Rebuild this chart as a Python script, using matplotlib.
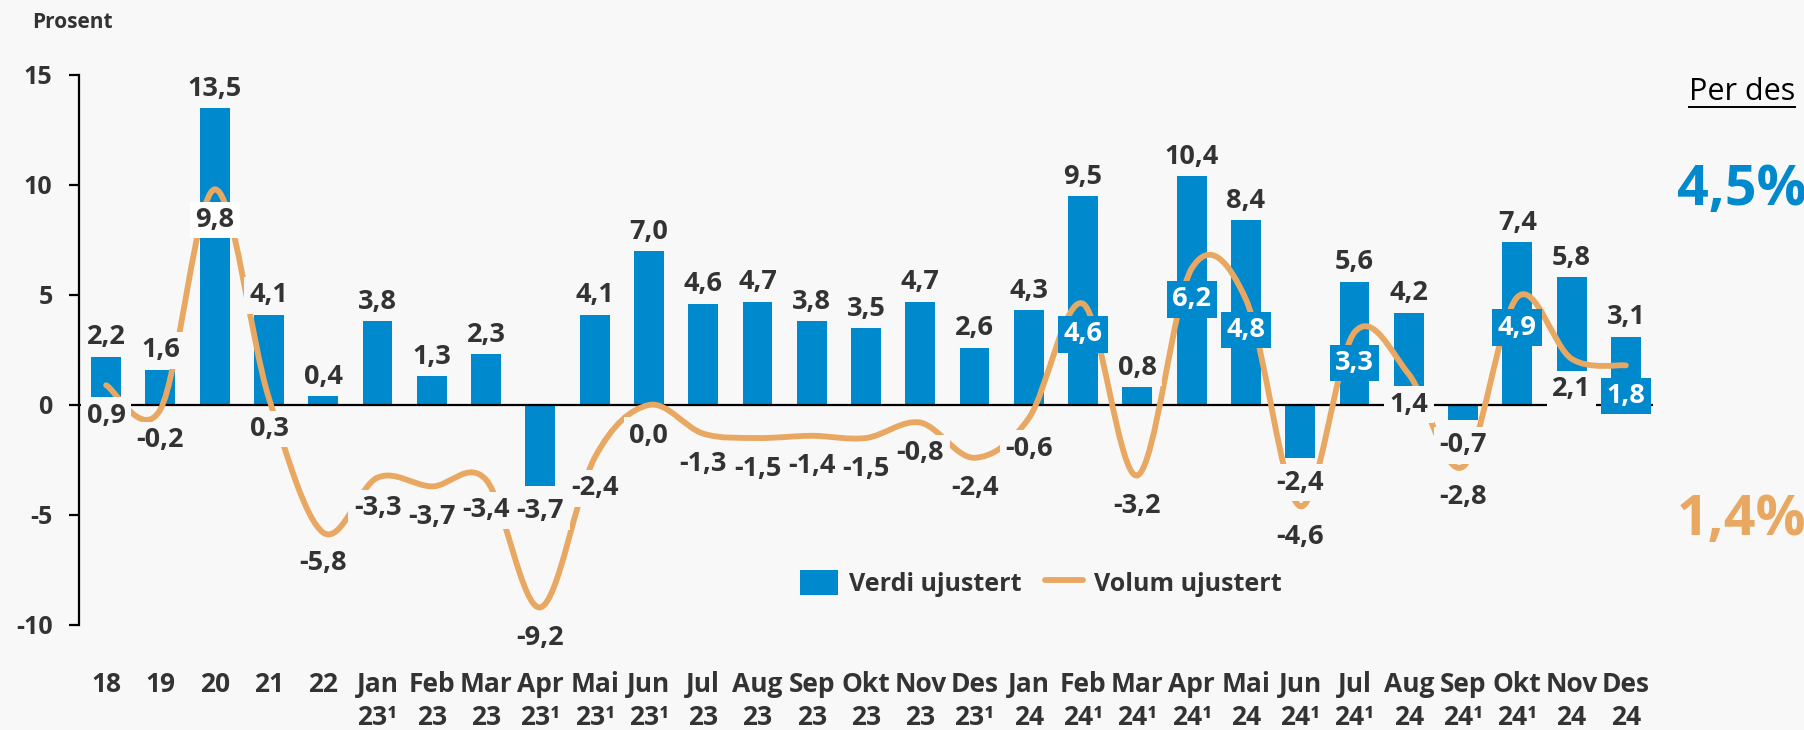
import matplotlib.pyplot as plt
import numpy as np
from matplotlib.path import Path
from matplotlib.patches import PathPatch, Patch
from matplotlib.lines import Line2D

plt.rcParams["font.family"] = ["Open Sans", "DejaVu Sans"]

categories = ["18", "19", "20", "21", "22",
              "Jan\n23¹", "Feb\n23", "Mar\n23", "Apr\n23¹", "Mai\n23¹", "Jun\n23¹",
              "Jul\n23", "Aug\n23", "Sep\n23", "Okt\n23", "Nov\n23", "Des\n23¹",
              "Jan\n24", "Feb\n24¹", "Mar\n24¹", "Apr\n24¹", "Mai\n24", "Jun\n24¹",
              "Jul\n24¹", "Aug\n24", "Sep\n24¹", "Okt\n24¹", "Nov\n24", "Des\n24"]
verdi = [2.2, 1.6, 13.5, 4.1, 0.4,
         3.8, 1.3, 2.3, -3.7, 4.1, 7.0, 4.6, 4.7, 3.8, 3.5, 4.7, 2.6,
         4.3, 9.5, 0.8, 10.4, 8.4, -2.4, 5.6, 4.2, -0.7, 7.4, 5.8, 3.1]
volum = [0.9, -0.2, 9.8, 0.3, -5.8,
         -3.3, -3.7, -3.4, -9.2, -2.4, 0.0, -1.3, -1.5, -1.4, -1.5, -0.8, -2.4,
         -0.6, 4.6, -3.2, 6.2, 4.8, -4.6, 3.3, 1.4, -2.8, 4.9, 2.1, 1.8]
# volume labels that sit on a blue box
blue_box = ["Feb\n24¹", "Apr\n24¹", "Mai\n24", "Jul\n24¹", "Okt\n24¹", "Des\n24"]
per_des_verdi = "4,5%"
per_des_volum = "1,4%"

BLUE = "#0089CC"
ORANGE = "#E8A862"
TEXT = "#333333"
BG = "#F8F8F8"


def fmt(v):
    return f"{v:.1f}".replace(".", ",")


def smooth_path(xs, ys):
    pts = np.column_stack([xs, ys]).astype(float)
    n = len(pts)
    verts = [pts[0]]
    codes = [Path.MOVETO]
    for i in range(n - 1):
        p0 = pts[i - 1] if i > 0 else pts[i]
        p1, p2 = pts[i], pts[i + 1]
        p3 = pts[i + 2] if i + 2 < n else pts[i + 1]
        verts += [p1 + (p2 - p0) / 6, p2 - (p3 - p1) / 6, p2]
        codes += [Path.CURVE4] * 3
    return Path(verts, codes)


fig = plt.figure(figsize=(18.04, 7.30), dpi=100, facecolor=BG)
ax = fig.add_axes([79 / 1804, 105 / 730, 1574 / 1804, 550 / 730])
ax.set_facecolor(BG)

x = np.arange(len(categories))
ax.bar(x, verdi, width=0.55, color=BLUE, zorder=2)
ax.add_patch(PathPatch(smooth_path(x, volum), fill=False, edgecolor=ORANGE,
                       lw=4.2, capstyle="round", zorder=3))
ax.axhline(0, color="black", lw=1.6, zorder=2.5)

box_bg = dict(boxstyle="square,pad=0.2", fc=BG, ec="none")
box_white = dict(boxstyle="square,pad=0.2", fc="white", ec="none")
box_blue = dict(boxstyle="square,pad=0.2", fc=BLUE, ec="none")

for xi, v in zip(x, verdi):
    off = 14 if v >= 0 else -18
    ax.annotate(fmt(v), (xi, v), xytext=(0, off), textcoords="offset points",
                ha="center", va="center", fontsize=19.5, fontweight="bold",
                color=TEXT, bbox=box_bg, zorder=5)

for xi, cat, v in zip(x, categories, volum):
    blue = cat in blue_box
    # white box where the label lies well inside a bar
    box = box_blue if blue else (box_white if v > 3 else box_bg)
    ax.annotate(fmt(v), (xi, v), xytext=(0, -22), textcoords="offset points",
                ha="center", va="center", fontsize=19.5, fontweight="bold",
                color="white" if blue else TEXT, bbox=box, zorder=6)

ax.set_xlim(-0.5, len(categories) - 0.5)
ax.set_ylim(-10, 15)
ax.set_yticks([-10, -5, 0, 5, 10, 15])
ax.set_yticklabels(["-10", "-5", "0", "5", "10", "15"])
ax.set_xticks(x)
ax.set_xticklabels(categories, linespacing=1.3)

for s in ["top", "right", "bottom"]:
    ax.spines[s].set_visible(False)
ax.spines["left"].set_linewidth(1.6)
ax.tick_params(axis="y", length=7, width=1.6, pad=12, labelsize=18, labelcolor=TEXT)
ax.tick_params(axis="x", length=0, pad=33, labelsize=19, labelcolor=TEXT)
for lab in ax.get_xticklabels() + ax.get_yticklabels():
    lab.set_fontweight("bold")

handles = [Patch(facecolor=BLUE, edgecolor="none"),
           Line2D([], [], color=ORANGE, lw=4.2, solid_capstyle="round")]
leg = ax.legend(handles, ["Verdi ujustert", "Volum ujustert"], ncol=2,
                loc="center", bbox_to_anchor=(0.611, 0.076), frameon=False,
                handlelength=1.5, handleheight=1.15, handletextpad=0.45,
                columnspacing=0.95, prop={"size": 18, "weight": "bold"})
for t in leg.get_texts():
    t.set_color(TEXT)

fig.text(32 / 1804, 1 - 22 / 730, "Prosent", fontsize=15, fontweight="bold",
         color=TEXT, ha="left", va="center")

per = fig.text(1742 / 1804, 1 - 92 / 730, "Per des", fontsize=22,
               color="black", ha="center", va="center")
fig.text(1742 / 1804, 1 - 191 / 730, per_des_verdi, fontsize=40,
         fontweight="bold", color=BLUE, ha="center", va="center")
fig.text(1742 / 1804, 1 - 521 / 730, per_des_volum, fontsize=40,
         fontweight="bold", color=ORANGE, ha="center", va="center")

fig.canvas.draw()
bb = per.get_window_extent().transformed(fig.transFigure.inverted())
fig.add_artist(Line2D([bb.x0, bb.x1], [1 - 107 / 730] * 2, color="black",
                      lw=1.4, transform=fig.transFigure))

fig.savefig("out.png", dpi=100, facecolor=BG)
